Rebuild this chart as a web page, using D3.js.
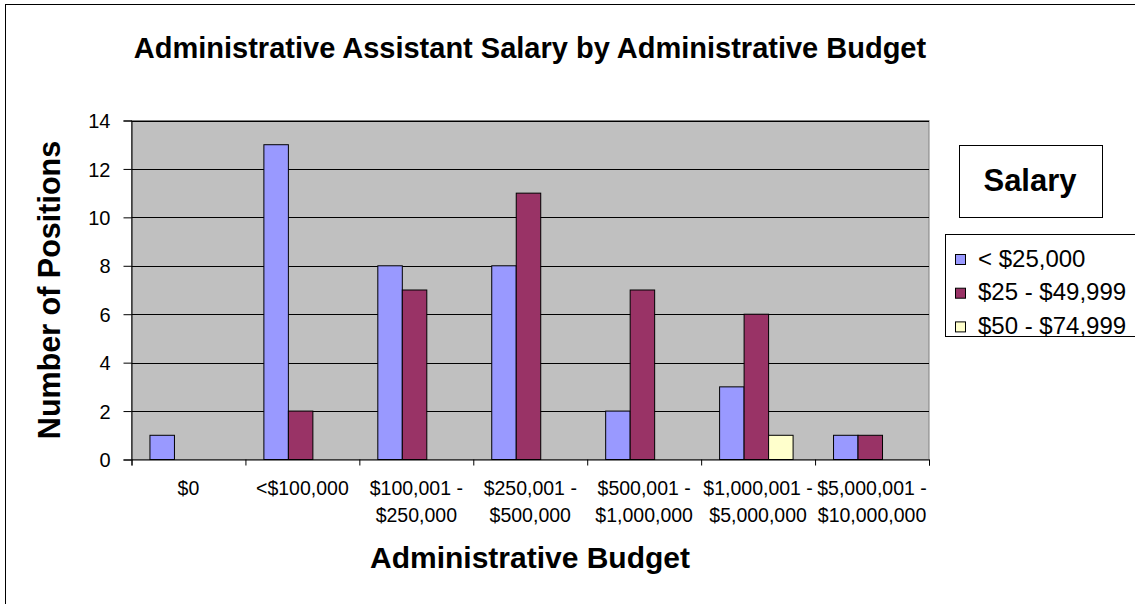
<!DOCTYPE html>
<html>
<head>
<meta charset="utf-8">
<script src="https://cdn.jsdelivr.net/npm/d3@7"></script>
<style>
  html, body { margin: 0; padding: 0; background: #fff; }
  svg { display: block; font-family: Arial, "Liberation Sans", sans-serif; }
</style>
</head>
<body>
<svg id="chart" width="1135" height="604"></svg>
<script>
// Budget categories (two-line labels)
const categories = [
  ["$0"],
  ["<$100,000"],
  ["$100,001 -", "$250,000"],
  ["$250,001 -", "$500,000"],
  ["$500,001 -", "$1,000,000"],
  ["$1,000,001 -", "$5,000,000"],
  ["$5,000,001 -", "$10,000,000"]
];
const seriesNames = ["< $25,000", "$25 - $49,999", "$50 - $74,999"];
const under25k = [1, 13, 8, 8, 2, 3, 1];
const from25to50k = [0, 2, 7, 11, 7, 6, 1];
const from50to75k = [0, 0, 0, 0, 0, 1, 0];
const seriesColors = ["#9999FF", "#993366", "#FFFFCC"];
const yTicks = [0, 2, 4, 6, 8, 10, 12, 14];

const seriesValues = [under25k, from25to50k, from50to75k];
const FONT = "Arial, 'Liberation Sans', sans-serif";

const svg = d3.select("#chart");

// outer chart frame
svg.append("rect")
  .attr("x", 5.5).attr("y", 4.5)
  .attr("width", 1140).attr("height", 610)
  .attr("fill", "#fff").attr("stroke", "#000").attr("stroke-width", 1);

const plot = { left: 131.5, right: 929, top: 120.5, bottom: 459.5 };

const x0 = d3.scaleBand()
  .domain(d3.range(categories.length))
  .range([plot.left, plot.right]);

const bw = x0.bandwidth();
const x1 = d3.scaleBand()
  .domain(d3.range(seriesNames.length))
  .range([bw * 0.162, bw * 0.162 + bw * 0.645]);

const y = d3.scaleLinear().domain([0, 14]).range([plot.bottom, plot.top]);

// plot background
svg.append("rect")
  .attr("x", plot.left).attr("y", plot.top)
  .attr("width", plot.right - plot.left).attr("height", plot.bottom - plot.top)
  .attr("fill", "#C0C0C0").attr("stroke", "#808080").attr("stroke-width", 1);

// gridlines
svg.append("g")
  .selectAll("line")
  .data(yTicks.filter(d => d > 0))
  .join("line")
  .attr("x1", plot.left).attr("x2", plot.right)
  .attr("y1", d => Math.round(y(d)) + 0.5).attr("y2", d => Math.round(y(d)) + 0.5)
  .attr("stroke", "#000").attr("stroke-width", 1);

// bars
const groups = svg.append("g")
  .selectAll("g")
  .data(categories.map((c, i) => i))
  .join("g")
  .attr("transform", i => `translate(${x0(i)},0)`);

groups.selectAll("rect")
  .data(i => seriesValues.map((vals, s) => ({ s, v: vals[i] })).filter(d => d.v > 0))
  .join("rect")
  .attr("x", d => x1(d.s))
  .attr("y", d => y(d.v))
  .attr("width", x1.bandwidth())
  .attr("height", d => y(0) - y(d.v))
  .attr("fill", d => seriesColors[d.s])
  .attr("stroke", "#000").attr("stroke-width", 1);

// y axis
const yAxis = svg.append("g")
  .attr("transform", `translate(${plot.left},0)`)
  .call(d3.axisLeft(y).tickValues(yTicks).tickSize(8).tickPadding(13).tickFormat(d3.format("d")));
yAxis.select(".domain").attr("stroke", "#000");
yAxis.selectAll(".tick line").attr("stroke", "#000");
yAxis.selectAll("text").attr("font-size", 20).attr("fill", "#000")
  .attr("font-family", FONT).attr("dy", "0.36em");

// x axis
const xTickScale = d3.scaleLinear().domain([0, categories.length]).range([plot.left, plot.right]);
const xAxis = svg.append("g")
  .attr("transform", `translate(0,${plot.bottom})`)
  .call(d3.axisBottom(xTickScale).tickValues(d3.range(categories.length + 1)).tickSize(6).tickFormat(""));
xAxis.select(".domain").attr("stroke", "#000");
xAxis.selectAll(".tick line").attr("stroke", "#000");

// category labels
const catLabels = svg.append("g")
  .selectAll("text")
  .data(categories)
  .join("text")
  .attr("x", (d, i) => x0(i) + bw / 2)
  .attr("y", 495)
  .attr("text-anchor", "middle")
  .attr("font-size", 19.5)
  .attr("fill", "#000");
catLabels.selectAll("tspan")
  .data(d => d)
  .join("tspan")
  .attr("x", function () { return this.parentNode.getAttribute("x"); })
  .attr("dy", (d, i) => i === 0 ? 0 : 27)
  .text(d => d);

// titles
svg.append("text")
  .attr("x", 530).attr("y", 58)
  .attr("text-anchor", "middle")
  .attr("font-size", 29).attr("font-weight", "bold")
  .text("Administrative Assistant Salary by Administrative Budget");

svg.append("text")
  .attr("x", 530).attr("y", 568)
  .attr("text-anchor", "middle")
  .attr("font-size", 30).attr("font-weight", "bold")
  .text("Administrative Budget");

svg.append("text")
  .attr("transform", "translate(60,290) rotate(-90)")
  .attr("text-anchor", "middle")
  .attr("font-size", 30.5).attr("font-weight", "bold")
  .text("Number of Positions");

// legend title box
svg.append("rect")
  .attr("x", 959.5).attr("y", 145.5).attr("width", 143).attr("height", 72)
  .attr("fill", "#fff").attr("stroke", "#000").attr("stroke-width", 1);
svg.append("text")
  .attr("x", 1030).attr("y", 191)
  .attr("text-anchor", "middle")
  .attr("font-size", 31).attr("font-weight", "bold")
  .text("Salary");

// legend
const legend = svg.append("g");
legend.append("rect")
  .attr("x", 945.5).attr("y", 234.5).attr("width", 200).attr("height", 102)
  .attr("fill", "#fff").attr("stroke", "#000").attr("stroke-width", 1);
const items = legend.selectAll("g.item")
  .data(seriesNames)
  .join("g")
  .attr("class", "item")
  .attr("transform", (d, i) => `translate(0,${260 + i * 33.7})`);
items.append("rect")
  .attr("x", 955.5).attr("y", -5.5).attr("width", 10).attr("height", 10)
  .attr("fill", (d, i) => seriesColors[i]).attr("stroke", "#000").attr("stroke-width", 1);
items.append("text")
  .attr("x", 978).attr("y", 6.5)
  .attr("font-size", 24)
  .text(d => d);
</script>
</body>
</html>
